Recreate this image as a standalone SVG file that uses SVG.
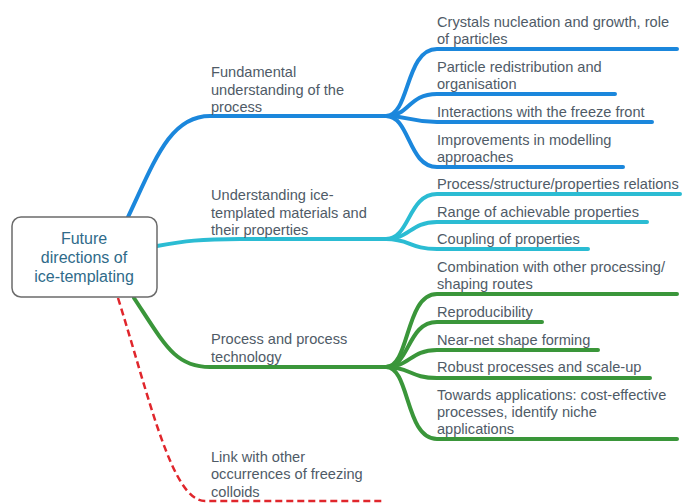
<svg xmlns="http://www.w3.org/2000/svg" width="682" height="503" viewBox="0 0 682 503">
<style>
.t{font-family:"Liberation Sans",Arial,sans-serif;font-size:14.6px;fill:#4f5b67}
.c{font-family:"Liberation Sans",Arial,sans-serif;font-size:16px;fill:#2f6b8a;text-anchor:middle}
.l{fill:none;stroke-linecap:round;stroke-linejoin:round}
.b{stroke:#1b87dc;stroke-width:4}
.y{stroke:#2bbcd3;stroke-width:4}
.g{stroke:#3a963a;stroke-width:4}
.r{stroke:#e0262c;stroke-width:2.5;stroke-dasharray:7 4;stroke-linecap:butt}
</style>
<rect width="682" height="503" fill="#fff"/>
<g id="connectors">
<path class="l b" d="M128,217 C155,160 170,116 210,116 H386"/>
<path class="l b" d="M386,116 C410,116 405,49 437,49 H677"/>
<path class="l b" d="M386,116 C410,116 408,94 437,94 H615"/>
<path class="l b" d="M386,116 C410,116 410,122 437,122 H652"/>
<path class="l b" d="M386,116 C410,116 408,167 437,167 H623"/>
<path class="l y" d="M157,246 C185,241 200,239 240,239 H386"/>
<path class="l y" d="M386,239 C410,239 408,194 437,194 H680"/>
<path class="l y" d="M386,239 C410,239 410,222 437,222 H647"/>
<path class="l y" d="M386,239 C410,239 410,249 437,249 H588"/>
<path class="l g" d="M134,298 C165,345 175,367 210,367 H386"/>
<path class="l g" d="M386,367 C410,367 405,294 437,294 H677"/>
<path class="l g" d="M386,367 C410,367 407,322 437,322 H542"/>
<path class="l g" d="M386,367 C410,367 410,350 437,350 H598"/>
<path class="l g" d="M386,367 C410,367 410,378 437,378 H650"/>
<path class="l g" d="M386,367 C410,367 405,439 437,439 H677"/>
<path class="l r" d="M118,298 C150,400 172,501 205,501 H385"/>
</g>
<g id="center">
<rect x="12" y="217" width="145" height="80" rx="9" fill="#fff" stroke="#6b6b6b" stroke-width="1.5"/>
<text class="c" x="84" y="244">Future</text>
<text class="c" x="84" y="263">directions of</text>
<text class="c" x="84" y="282">ice-templating</text>
</g>
<g id="fundamental">
<text class="t" x="211" y="77">Fundamental</text>
<text class="t" x="211" y="95">understanding of the</text>
<text class="t" x="211" y="112">process</text>
</g>
<g id="crystals"><text class="t" x="437" y="27">Crystals nucleation and growth, role</text><text class="t" x="437" y="44">of particles</text></g>
<g id="redistribution"><text class="t" x="437" y="72">Particle redistribution and</text><text class="t" x="437" y="89">organisation</text></g>
<g id="interactions"><text class="t" x="437" y="117">Interactions with the freeze front</text></g>
<g id="modelling"><text class="t" x="437" y="145">Improvements in modelling</text><text class="t" x="437" y="162">approaches</text></g>
<g id="materials">
<text class="t" x="211" y="200">Understanding ice-</text>
<text class="t" x="211" y="218">templated materials and</text>
<text class="t" x="211" y="235">their properties</text>
</g>
<g id="relations"><text class="t" x="437" y="189">Process/structure/properties relations</text></g>
<g id="range"><text class="t" x="437" y="217">Range of achievable properties</text></g>
<g id="coupling"><text class="t" x="437" y="244">Coupling of properties</text></g>
<g id="process">
<text class="t" x="211" y="344">Process and process</text>
<text class="t" x="211" y="362">technology</text>
</g>
<g id="combination"><text class="t" x="437" y="272">Combination with other processing/</text><text class="t" x="437" y="289">shaping routes</text></g>
<g id="reproducibility"><text class="t" x="437" y="317">Reproducibility</text></g>
<g id="nearnet"><text class="t" x="437" y="345">Near-net shape forming</text></g>
<g id="robust"><text class="t" x="437" y="372">Robust processes and scale-up</text></g>
<g id="applications"><text class="t" x="437" y="400">Towards applications: cost-effective</text><text class="t" x="437" y="417">processes, identify niche</text><text class="t" x="437" y="434">applications</text></g>
<g id="link">
<text class="t" x="211" y="462">Link with other</text>
<text class="t" x="211" y="479">occurrences of freezing</text>
<text class="t" x="211" y="497">colloids</text>
</g>
</svg>
